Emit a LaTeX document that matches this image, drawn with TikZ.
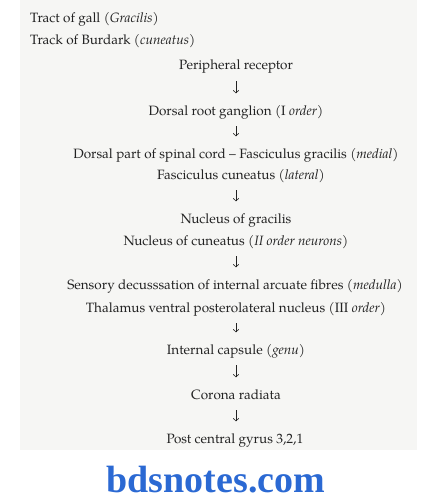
\documentclass[tikz,border=0pt]{standalone}
\usepackage{fontspec}
\setmainfont{TeX Gyre Pagella}
\newfontfamily\sitefont{Liberation Serif}
\usetikzlibrary{arrows.meta}
\definecolor{ink}{HTML}{222222}
\definecolor{paper}{HTML}{F6F6F4}
\definecolor{siteblue}{HTML}{2B69D3}
\begin{document}
\begin{tikzpicture}[x=1pt,y=-1pt,
    txt/.style={anchor=base,inner sep=0pt,text height=9.5pt,text depth=3pt,
        font=\fontsize{13.5}{16}\selectfont,text=ink},
    down/.style={draw=ink,line width=0.6pt,-{Straight Barb[length=2.5pt,width=5.5pt]},
        shorten <=8pt,shorten >=12pt}]
\useasboundingbox (0,0) rectangle (424,503);
\fill[paper] (20,0) rectangle (417,450);
\node[txt,anchor=base west] (gall) at (30,23) {Tract of gall (\textit{Gracilis})};
\node[txt,anchor=base west] (burd) at (30,45) {Track of Burdark (\textit{cuneatus})};
\node[txt] (pr) at (236,70) {Peripheral receptor};
\node[txt] (drg) at (236,115) {Dorsal root ganglion (I \textit{order})};
\node[txt] (dp) at (236,158) {Dorsal part of spinal cord -- Fasciculus gracilis (\textit{medial})};
\node[txt] (fc) at (241,179) {Fasciculus cuneatus (\textit{lateral})};
\node[txt] (ng) at (236,223) {Nucleus of gracilis};
\node[txt] (nc) at (236,245) {Nucleus of cuneatus (\textit{II order neurons})};
\node[txt] (sd) at (235,289) {Sensory decusssation of internal arcuate fibres (\textit{medulla})};
\node[txt] (th) at (236,312) {Thalamus ventral posterolateral nucleus (III \textit{order})};
\node[txt] (ic) at (236,354) {Internal capsule (\textit{genu})};
\node[txt] (cr) at (236,399) {Corona radiata};
\node[txt] (pcg) at (235,443) {Post central gyrus 3,2,1};
\node[anchor=base,inner sep=0pt,text=siteblue,
    font=\sitefont\bfseries\fontsize{38}{40}\selectfont] (site) at (216,492) {bdsnotes.com};
\draw[down] (pr.south) -- (drg.north);
\draw[down] (drg.south) -- (dp.north);
\draw[down] (fc.south -| ng.north) -- (ng.north);
\draw[down] (nc.south) -- (sd.north -| nc.south);
\draw[down] (th.south -| ic.north) -- (ic.north);
\draw[down] (ic.south) -- (cr.north);
\draw[down] (cr.south) -- (pcg.north -| cr.south);
\end{tikzpicture}
\end{document}
